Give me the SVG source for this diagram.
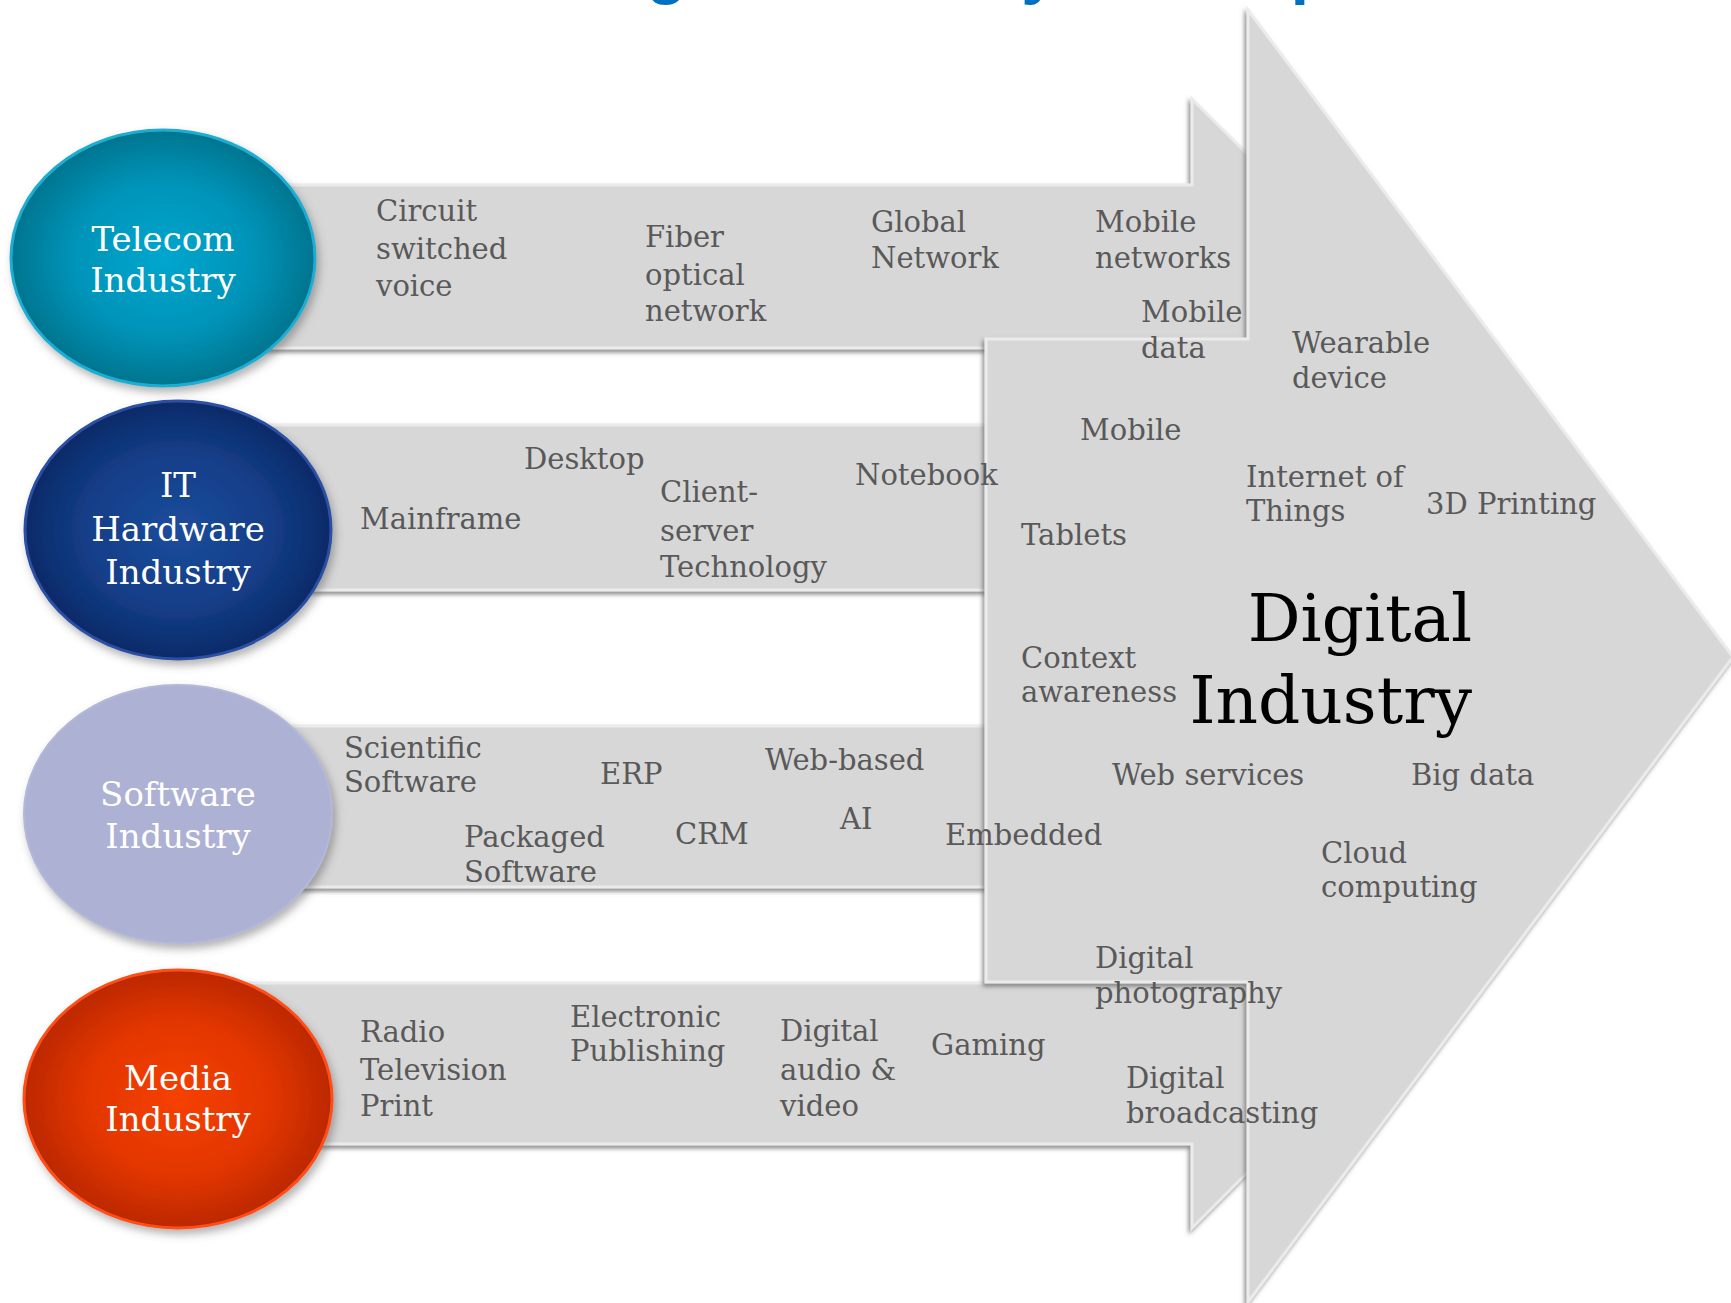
<svg xmlns="http://www.w3.org/2000/svg" width="1731" height="1303" viewBox="0 0 1731 1303">
<defs>
  <style>
    .band { fill: #D7D7D7; stroke: #EBEBEB; stroke-width: 3; stroke-linejoin: miter; }
    .lbl { font-family: "DejaVu Serif", "Liberation Serif", serif; font-size: 29px; fill: #595959; }
    .node { font-family: "DejaVu Serif", "Liberation Serif", serif; font-size: 34px; fill: #FFFFFF; text-anchor: middle; }
    .big { font-family: "DejaVu Serif", "Liberation Serif", serif; font-size: 66px; fill: #000000; text-anchor: end; }
    .title { font-family: "Liberation Sans", Arial, sans-serif; font-weight: bold; font-size: 65.5px; fill: #0070C0; }
  </style>
  <filter id="shadow" x="-5%" y="-10%" width="110%" height="120%">
    <feGaussianBlur in="SourceAlpha" stdDeviation="2" result="b"/>
    <feOffset in="b" dx="-2" dy="3" result="o"/>
    <feFlood flood-color="#666666" flood-opacity="0.75"/>
    <feComposite in2="o" operator="in" result="s"/>
    <feMerge><feMergeNode in="s"/><feMergeNode in="SourceGraphic"/></feMerge>
  </filter>
  <filter id="eshadow" x="-10%" y="-10%" width="125%" height="125%">
    <feGaussianBlur in="SourceAlpha" stdDeviation="4" result="b"/>
    <feOffset in="b" dx="3" dy="5" result="o"/>
    <feFlood flood-color="#555555" flood-opacity="0.45"/>
    <feComposite in2="o" operator="in" result="s"/>
    <feMerge><feMergeNode in="s"/><feMergeNode in="SourceGraphic"/></feMerge>
  </filter>
  <radialGradient id="gTel" cx="0.5" cy="0.5" r="0.5">
    <stop offset="0" stop-color="#00A6CE"/>
    <stop offset="0.6" stop-color="#0093B8"/>
    <stop offset="1" stop-color="#00758F"/>
  </radialGradient>
  <radialGradient id="gIT" cx="0.5" cy="0.5" r="0.5">
    <stop offset="0" stop-color="#1C4C9C"/>
    <stop offset="0.6" stop-color="#143E88"/>
    <stop offset="1" stop-color="#0A2A68"/>
  </radialGradient>
  <radialGradient id="gMed" cx="0.5" cy="0.5" r="0.5">
    <stop offset="0" stop-color="#F64000"/>
    <stop offset="0.6" stop-color="#E23600"/>
    <stop offset="1" stop-color="#BC2806"/>
  </radialGradient>
</defs>

<rect x="0" y="0" width="1731" height="1303" fill="#FFFFFF"/>

<text class="title" x="581" y="-8">Digital Industry Development</text>

<g id="connectors">
  <polygon id="telecom-band" class="band" filter="url(#shadow)" points="200,185 1192,185 1192,99 1360,266 1192,433 1192,348 200,348"/>
  <polygon id="media-band" class="band" filter="url(#shadow)" points="200,983 1192,983 1192,900 1356,1064 1192,1228 1192,1144 200,1144"/>
  <rect id="it-band" class="band" filter="url(#shadow)" x="200" y="425" width="800" height="165"/>
  <rect id="software-band" class="band" filter="url(#shadow)" x="200" y="726" width="800" height="161"/>
</g>

<g id="digital-industry">
  <polygon class="band" filter="url(#shadow)" points="986,339 1248,339 1248,10 1733,657 1248,1302 1248,982 986,982"/>
  <text class="big" x="1472" y="641">Digital</text>
  <text class="big" x="1472" y="723">Industry</text>
  <text class="lbl" x="1080" y="440">Mobile</text>
  <text class="lbl" x="1292" y="353">Wearable</text>
  <text class="lbl" x="1292" y="388">device</text>
  <text class="lbl" x="1246" y="487">Internet of</text>
  <text class="lbl" x="1246" y="521">Things</text>
  <text class="lbl" x="1426" y="514">3D Printing</text>
  <text class="lbl" x="1021" y="545">Tablets</text>
  <text class="lbl" x="1021" y="668">Context</text>
  <text class="lbl" x="1021" y="702">awareness</text>
  <text class="lbl" x="1112" y="785">Web services</text>
  <text class="lbl" x="1411" y="785">Big data</text>
  <text class="lbl" x="1321" y="863">Cloud</text>
  <text class="lbl" x="1321" y="897">computing</text>
</g>

<g id="telecom-labels">
  <text class="lbl" x="376" y="221">Circuit</text>
  <text class="lbl" x="376" y="259">switched</text>
  <text class="lbl" x="376" y="296">voice</text>
  <text class="lbl" x="645" y="247">Fiber</text>
  <text class="lbl" x="645" y="285">optical</text>
  <text class="lbl" x="645" y="321">network</text>
  <text class="lbl" x="871" y="232">Global</text>
  <text class="lbl" x="871" y="268">Network</text>
  <text class="lbl" x="1095" y="232">Mobile</text>
  <text class="lbl" x="1095" y="268">networks</text>
  <text class="lbl" x="1141" y="322">Mobile</text>
  <text class="lbl" x="1141" y="358">data</text>
</g>

<g id="it-labels">
  <text class="lbl" x="524" y="469">Desktop</text>
  <text class="lbl" x="360" y="529">Mainframe</text>
  <text class="lbl" x="660" y="502">Client-</text>
  <text class="lbl" x="660" y="541">server</text>
  <text class="lbl" x="660" y="577">Technology</text>
  <text class="lbl" x="855" y="485">Notebook</text>
</g>

<g id="software-labels">
  <text class="lbl" x="344" y="758">Scientific</text>
  <text class="lbl" x="344" y="792">Software</text>
  <text class="lbl" x="600" y="784">ERP</text>
  <text class="lbl" x="765" y="770">Web-based</text>
  <text class="lbl" x="464" y="847">Packaged</text>
  <text class="lbl" x="464" y="882">Software</text>
  <text class="lbl" x="675" y="844">CRM</text>
  <text class="lbl" x="840" y="829">AI</text>
  <text class="lbl" x="945" y="845">Embedded</text>
</g>

<g id="media-labels">
  <text class="lbl" x="360" y="1042">Radio</text>
  <text class="lbl" x="360" y="1080">Television</text>
  <text class="lbl" x="360" y="1116">Print</text>
  <text class="lbl" x="570" y="1027">Electronic</text>
  <text class="lbl" x="570" y="1061">Publishing</text>
  <text class="lbl" x="780" y="1041">Digital</text>
  <text class="lbl" x="780" y="1080">audio &amp;</text>
  <text class="lbl" x="780" y="1116">video</text>
  <text class="lbl" x="931" y="1055">Gaming</text>
  <text class="lbl" x="1095" y="968">Digital</text>
  <text class="lbl" x="1095" y="1003">photography</text>
  <text class="lbl" x="1126" y="1088">Digital</text>
  <text class="lbl" x="1126" y="1123">broadcasting</text>
</g>

<g id="telecom-industry">
  <ellipse cx="163" cy="258" rx="152" ry="128" fill="url(#gTel)" stroke="#1FAED2" stroke-width="3" filter="url(#eshadow)"/>
  <text class="node" x="163" y="251">Telecom</text>
  <text class="node" x="163" y="292">Industry</text>
</g>

<g id="it-hardware-industry">
  <ellipse cx="178" cy="530" rx="153" ry="129" fill="url(#gIT)" stroke="#2A50A4" stroke-width="3" filter="url(#eshadow)"/>
  <text class="node" x="178" y="497">IT</text>
  <text class="node" x="178" y="541">Hardware</text>
  <text class="node" x="178" y="584">Industry</text>
</g>

<g id="software-industry">
  <ellipse cx="178" cy="814" rx="154" ry="129" fill="#ADB1D3" stroke="#B3B7D8" stroke-width="2" filter="url(#eshadow)"/>
  <text class="node" x="178" y="806">Software</text>
  <text class="node" x="178" y="848">Industry</text>
</g>

<g id="media-industry">
  <ellipse cx="178" cy="1099" rx="154" ry="129" fill="url(#gMed)" stroke="#FF4E14" stroke-width="3" filter="url(#eshadow)"/>
  <text class="node" x="178" y="1090">Media</text>
  <text class="node" x="178" y="1131">Industry</text>
</g>
</svg>
